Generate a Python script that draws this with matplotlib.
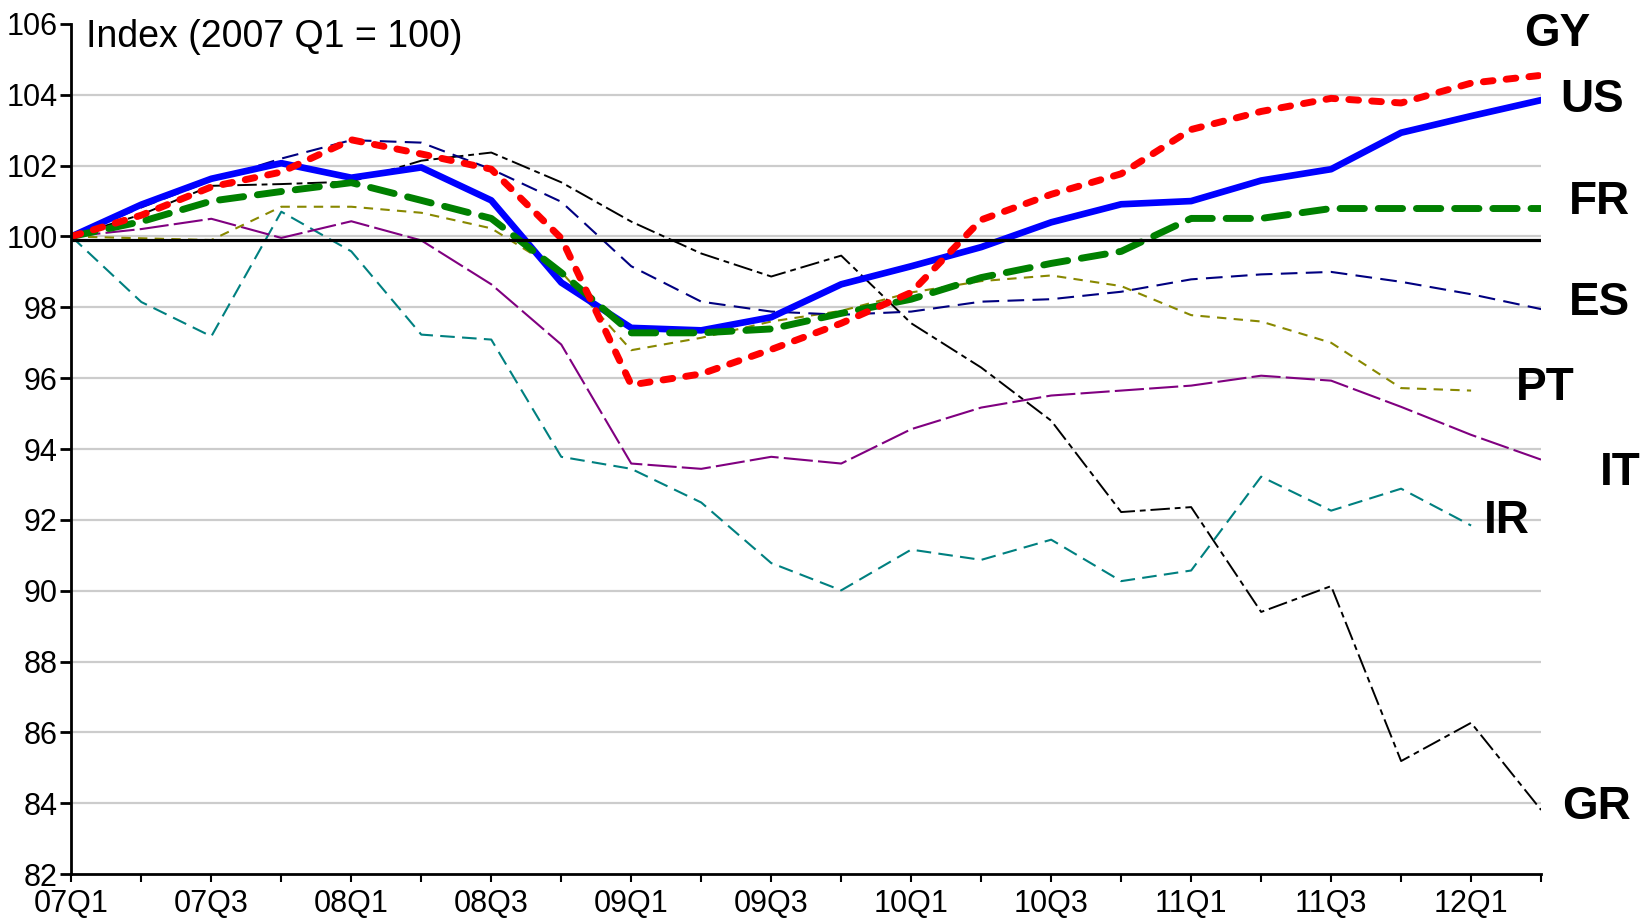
import matplotlib
matplotlib.use('Agg')
import matplotlib.pyplot as plt
import numpy as np

quarters = ['07Q1', '07Q2', '07Q3', '07Q4', '08Q1', '08Q2', '08Q3', '08Q4',
            '09Q1', '09Q2', '09Q3', '09Q4', '10Q1', '10Q2', '10Q3', '10Q4',
            '11Q1', '11Q2', '11Q3', '11Q4', '12Q1', '12Q2']

us = [100, 100.9, 101.63, 102.07, 101.66, 101.95, 101.02, 98.7, 97.42, 97.35, 97.72,
      98.65, 99.16, 99.7, 100.4, 100.91, 101.0, 101.58, 101.9, 102.93, 103.4, 103.85]
gy = [100, 100.6, 101.4, 101.82, 102.73, 102.33, 101.9, 99.95, 95.81, 96.12, 96.81,
      97.55, 98.42, 100.47, 101.19, 101.77, 103.02, 103.53, 103.9, 103.77, 104.33, 104.55]
fr = [100, 100.42, 101.0, 101.27, 101.52, 101.02, 100.51, 98.98, 97.28, 97.28, 97.39,
      97.83, 98.23, 98.84, 99.24, 99.58, 100.51, 100.51, 100.79, 100.79, 100.79, 100.79]
es = [100, 100.82, 101.58, 102.2, 102.72, 102.65, 101.9, 100.98, 99.16, 98.16, 97.88,
      97.79, 97.88, 98.16, 98.23, 98.44, 98.79, 98.93, 99.0, 98.72, 98.37, 97.95]
pt = [100, 99.95, 99.9, 100.84, 100.84, 100.67, 100.23, 99.0, 96.79, 97.14, 97.6,
      97.9, 98.42, 98.74, 98.9, 98.6, 97.78, 97.6, 97.0, 95.72, 95.65]
it = [100, 100.21, 100.5, 99.96, 100.43, 99.89, 98.65, 96.95, 93.59, 93.44, 93.78,
      93.59, 94.56, 95.17, 95.51, 95.65, 95.79, 96.07, 95.93, 95.19, 94.4, 93.7]
ir = [100, 98.15, 97.18, 100.7, 99.58, 97.23, 97.09, 93.78, 93.44, 92.49, 90.78,
      90.01, 91.16, 90.87, 91.44, 90.27, 90.57, 93.22, 92.26, 92.88, 91.84]
gr = [100, 100.62, 101.43, 101.48, 101.55, 102.14, 102.37, 101.53, 100.42, 99.52, 98.87,
      99.46, 97.55, 96.3, 94.8, 92.22, 92.36, 89.4, 90.13, 85.19, 86.27, 83.81]

base_level = 99.9

label_names = ['GY', 'US', 'FR', 'ES', 'PT', 'IT', 'IR', 'GR']
label_x = [21.23, 21.73, 21.83, 21.83, 21.06, 22.13, 20.51, 21.79]
label_y = [105.72, 103.85, 100.97, 98.12, 95.72, 93.32, 91.97, 83.89]

plt.rcParams['font.family'] = ['Liberation Sans', 'DejaVu Sans']

fig = plt.figure(figsize=(16.44, 9.22), dpi=100)
ax = fig.add_axes([0.0434, 0.052, 0.894, 0.922])

x = np.arange(len(quarters))

# thin lines first, thick ones on top
ax.plot(x[:len(gr)], gr, color='black', lw=1.4, dashes=(10, 2.5, 3, 2.5))
ax.plot(x[:len(ir)], ir, color='#008080', lw=1.5, dashes=(7, 3.5))
ax.plot(x[:len(it)], it, color='#800080', lw=1.5, dashes=(14, 2.5))
ax.plot(x[:len(pt)], pt, color='#888800', lw=1.5, dashes=(4.5, 3.5))
ax.plot(x[:len(es)], es, color='#000080', lw=1.5, dashes=(8, 4))
ax.plot(x, us, color='#0000ff', lw=4.8)
ax.plot(x, fr, color='#008000', lw=5.0, dashes=(3.5, 2.0), dash_capstyle='round')
ax.plot(x, gy, color='#ff0000', lw=5.0, dashes=(1.4, 1.9), dash_capstyle='round')

ax.axhline(base_level, color='black', lw=2.3, zorder=5)

ax.set_xlim(0, len(quarters) - 1)
ax.set_ylim(82, 106)
ax.set_yticks(np.arange(82, 107, 2))
ax.set_yticklabels([str(v) for v in range(82, 107, 2)], fontsize=22)
ax.set_xticks(x[::2])
ax.set_xticklabels(quarters[::2], fontsize=22)
ax.set_xticks(x, minor=True)

for v in range(84, 106, 2):
    ax.axhline(v, color='#cccccc', lw=1.6, zorder=0)

for s in ['top', 'right']:
    ax.spines[s].set_visible(False)
ax.spines['left'].set_linewidth(2)
ax.spines['bottom'].set_linewidth(2)
ax.tick_params(axis='y', direction='out', length=8, width=2, pad=2)
ax.tick_params(axis='x', which='both', direction='out', length=6, width=1.5, pad=5)

ax.text(0.21, 105.63, 'Index (2007 Q1 = 100)', fontsize=27, ha='left', va='center')

for name, lx, ly in zip(label_names, label_x, label_y):
    ax.text(lx, ly, name, fontsize=33, fontweight='bold',
            ha='center', va='center', clip_on=False)

fig.savefig('out.png', dpi=100)
